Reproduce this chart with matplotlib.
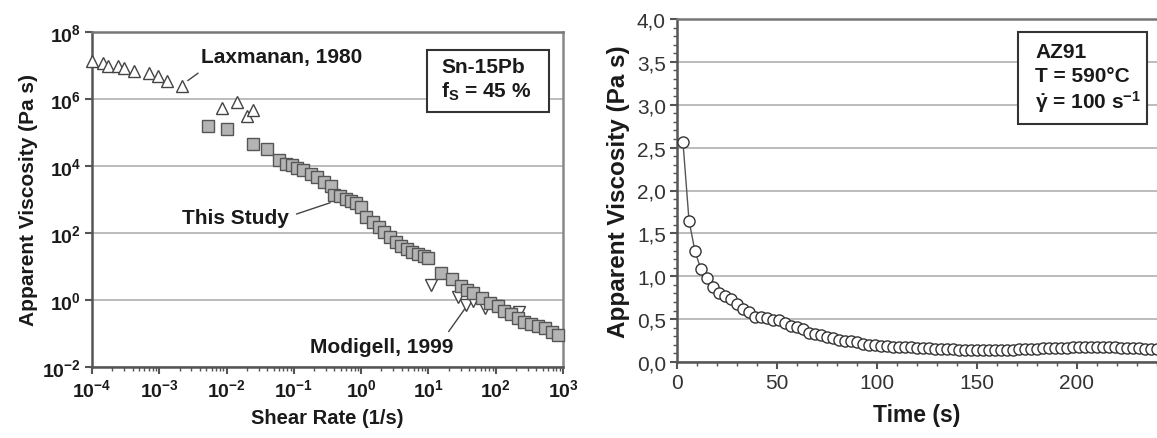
import math
import matplotlib
matplotlib.use("Agg")
import matplotlib.pyplot as plt
import matplotlib.patches as patches
from matplotlib.ticker import FixedLocator, LogLocator, MultipleLocator, FuncFormatter, NullFormatter

plt.rcParams['font.family'] = ['Liberation Sans', 'DejaVu Sans']
plt.rcParams['mathtext.fontset'] = 'custom'
plt.rcParams['mathtext.rm'] = 'Liberation Sans:bold'
plt.rcParams['mathtext.bf'] = 'Liberation Sans:bold'
plt.rcParams['mathtext.it'] = 'Liberation Sans:bold'
plt.rcParams['mathtext.default'] = 'bf'

# ---- left panel: Sn-15Pb, viscosity vs shear rate (log10 values)
lax_logx = [-4.00, -3.83, -3.76, -3.62, -3.53, -3.37, -3.16, -3.02, -2.89, -2.66,
            -2.07, -1.85, -1.70, -1.60]
lax_logy = [7.14, 7.07, 6.98, 7.00, 6.92, 6.85, 6.77, 6.68, 6.54, 6.40,
            5.72, 5.90, 5.48, 5.66]

study_logx = [-2.27, -1.99, -1.60, -1.40, -1.22, -1.11, -1.03, -0.95, -0.86, -0.75,
              -0.65, -0.55, -0.45, -0.40, -0.31, -0.23, -0.15, -0.08, 0.00, 0.07,
              0.17, 0.27, 0.34, 0.43, 0.52, 0.59, 0.68, 0.76, 0.85, 0.93,
              1.00, 1.19, 1.35, 1.48, 1.57, 1.66, 1.79, 1.92, 2.03, 2.13,
              2.23, 2.33, 2.42, 2.53, 2.63, 2.73, 2.83, 2.92]
study_logy = [5.20, 5.10, 4.66, 4.51, 4.19, 4.06, 4.03, 3.93, 3.88, 3.76,
              3.66, 3.51, 3.41, 3.13, 3.09, 3.01, 2.96, 2.89, 2.77, 2.47,
              2.32, 2.17, 2.02, 1.87, 1.72, 1.60, 1.52, 1.42, 1.37, 1.30,
              1.24, 0.80, 0.63, 0.41, 0.31, 0.21, 0.05, -0.09, -0.19, -0.32,
              -0.42, -0.55, -0.65, -0.72, -0.77, -0.84, -0.95, -1.04]

mod_logx = [1.04, 1.44, 1.56, 1.66, 1.84, 2.01, 2.23, 2.35]
mod_logy = [0.45, 0.08, -0.15, -0.02, -0.24, -0.19, -0.42, -0.37]

# ---- right panel: AZ91, viscosity vs time
time_s = [3, 6, 9, 12, 15, 18, 21, 24, 27, 30, 33, 36, 39, 42, 45, 48, 51, 54, 57, 60,
          63, 66, 69, 72, 75, 78, 81, 84, 87, 90, 93, 96, 99, 102, 105, 108, 111, 114, 117, 120,
          123, 126, 129, 132, 135, 138, 141, 144, 147, 150, 153, 156, 159, 162, 165, 168, 171, 174, 177, 180,
          183, 186, 189, 192, 195, 198, 201, 204, 207, 210, 213, 216, 219, 222, 225, 228, 231, 234, 237, 240]
visc_pas = [2.56, 1.65, 1.29, 1.08, 0.98, 0.87, 0.81, 0.77, 0.73, 0.68, 0.62, 0.58, 0.53, 0.53, 0.51, 0.49,
            0.49, 0.45, 0.42, 0.41, 0.38, 0.34, 0.33, 0.31, 0.29, 0.28, 0.26, 0.25, 0.24, 0.23, 0.21, 0.20,
            0.20, 0.19, 0.19, 0.18, 0.18, 0.17, 0.17, 0.16, 0.16, 0.16, 0.15, 0.15, 0.15, 0.15, 0.14, 0.14,
            0.14, 0.14, 0.14, 0.14, 0.14, 0.14, 0.14, 0.14, 0.15, 0.15, 0.15, 0.15, 0.16, 0.16, 0.16, 0.16,
            0.16, 0.17, 0.17, 0.17, 0.17, 0.17, 0.17, 0.17, 0.17, 0.16, 0.16, 0.16, 0.16, 0.15, 0.15, 0.15]

txt = '#1a1a1a'
spine_c = '#555555'
grid_c = '#aaaaaa'

W, H = 1157, 439
fig = plt.figure(figsize=(W / 100, H / 100), dpi=100)
fig.patch.set_facecolor('white')

# ================= left =================
ax = fig.add_axes([92 / W, 1 - 368 / H, (563 - 92) / W, (368 - 33) / H])
ax.set_xscale('log')
ax.set_yscale('log')
ax.set_xlim(1e-4, 1e3)
ax.set_ylim(1e-2, 1e8)

ax.plot([10 ** v for v in lax_logx], [10 ** v for v in lax_logy], linestyle='none', marker='^',
        ms=8.5, mfc='white', mec='#444444', mew=1.0, zorder=3, clip_on=False)
ax.plot([10 ** v for v in study_logx], [10 ** v for v in study_logy], linestyle='none', marker='s',
        ms=8, mfc='#b4b4b4', mec='#555555', mew=1.0, zorder=4, clip_on=False)
ax.plot([10 ** v for v in mod_logx], [10 ** v for v in mod_logy], linestyle='none', marker='v',
        ms=8.5, mfc='white', mec='#444444', mew=1.0, zorder=3)

ax.yaxis.set_major_locator(FixedLocator([1e-2, 1e0, 1e2, 1e4, 1e6, 1e8]))
ax.yaxis.set_minor_locator(FixedLocator([]))
ax.xaxis.set_major_locator(LogLocator(base=10, numticks=20))
ax.xaxis.set_minor_locator(LogLocator(base=10, subs=range(2, 10), numticks=20))
ax.xaxis.set_minor_formatter(NullFormatter())
logfmt = FuncFormatter(lambda v, p: r'$\mathbf{10^{%d}}$' % round(math.log10(v)))
ax.xaxis.set_major_formatter(logfmt)
ax.yaxis.set_major_formatter(logfmt)
ax.tick_params(axis='both', which='major', direction='out', length=5, width=1.5,
               color=spine_c, labelsize=14, labelcolor=txt, pad=3)
ax.tick_params(axis='x', which='minor', direction='out', length=3, width=1, color=spine_c)
ax.grid(True, axis='y', which='major', color=grid_c, lw=1.1)
ax.set_axisbelow(True)
for s in ax.spines.values():
    s.set_color(spine_c)
    s.set_linewidth(1.8)
ax.spines['right'].set_color('#888888')
ax.spines['top'].set_color('#777777')

ax.set_xlabel('Shear Rate (1/s)', fontsize=14.5, fontweight='bold', color=txt, labelpad=6)
ax.set_ylabel('Apparent Viscosity (Pa s)', fontsize=15, fontweight='bold', color=txt, labelpad=3)

ax.text(4.1e-3, 1.8e7, 'Laxmanan, 1980', fontsize=15, fontweight='bold', color=txt, va='center', ha='left')
ax.annotate('', xy=(10 ** -2.61, 10 ** 6.50), xytext=(10 ** -2.39, 10 ** 6.82),
            arrowprops=dict(arrowstyle='-', color='#444444', lw=1))
ax.text(2.2e-3, 3.0e2, 'This Study', fontsize=15, fontweight='bold', color=txt, va='center', ha='left')
ax.annotate('', xy=(10 ** -0.42, 10 ** 2.93), xytext=(10 ** -1.00, 10 ** 2.54),
            arrowprops=dict(arrowstyle='-', color='#444444', lw=1))
ax.text(10 ** 0.31, 10 ** -1.40, 'Modigell, 1999', fontsize=15, fontweight='bold', color=txt,
        va='center', ha='center')
ax.annotate('', xy=(10 ** 1.56, 10 ** -0.21), xytext=(10 ** 1.276, 10 ** -1.01),
            arrowprops=dict(arrowstyle='-', color='#444444', lw=1))

ax.add_patch(patches.Rectangle((0.711, 0.761), 0.259, 0.185, transform=ax.transAxes,
                               facecolor='white', edgecolor='#333333', lw=1.5, zorder=5))
ax.text(0.741, 0.896, 'Sn-15Pb', transform=ax.transAxes, fontsize=15, fontweight='bold',
        color=txt, va='center', ha='left', zorder=6)
ax.text(0.741, 0.824, r'f$_{\mathbf{S}}$ = 45 %', transform=ax.transAxes, fontsize=15, fontweight='bold',
        color=txt, va='center', ha='left', zorder=6)

# ================= right =================
ax2 = fig.add_axes([677 / W, 1 - 363 / H, 480 / W, 343 / H])
ax2.set_xlim(0, 240)
ax2.set_ylim(0, 4.0)
ax2.plot(time_s, visc_pas, color='#555555', lw=1.0, marker='o', ms=8, mfc='white',
         mec='#333333', mew=1.0, zorder=3)

ax2.yaxis.set_major_locator(MultipleLocator(0.5))
ax2.yaxis.set_minor_locator(MultipleLocator(0.1))
ax2.xaxis.set_major_locator(MultipleLocator(50))
ax2.xaxis.set_minor_locator(MultipleLocator(10))
ax2.yaxis.set_major_formatter(FuncFormatter(lambda v, p: f'{v:.1f}'.replace('.', ',')))
ax2.xaxis.set_major_formatter(FuncFormatter(lambda v, p: f'{v:.0f}'))
ax2.tick_params(axis='both', which='major', direction='out', length=5, width=1.5,
                color=spine_c, labelsize=15, labelcolor='#333333', pad=3)
ax2.tick_params(axis='both', which='minor', direction='out', length=3, width=1, color=spine_c)
ax2.grid(True, axis='y', which='major', color=grid_c, lw=1.1)
ax2.set_axisbelow(True)
for s in ax2.spines.values():
    s.set_color(spine_c)
    s.set_linewidth(1.8)
ax2.spines['right'].set_visible(False)
ax2.spines['top'].set_color('#777777')

ax2.set_xlabel('Time (s)', fontsize=16.5, fontweight='bold', color=txt, labelpad=8)
ax2.set_ylabel('Apparent Viscosity (Pa s)', fontsize=17.5, fontweight='bold', color=txt, labelpad=5)

ax2.add_patch(patches.Rectangle((0.710, 0.694), 0.269, 0.268, transform=ax2.transAxes,
                                facecolor='white', edgecolor='#333333', lw=1.5, zorder=5))
ax2.text(0.746, 0.904, 'AZ91', transform=ax2.transAxes, fontsize=15, fontweight='bold',
         color=txt, va='center', ha='left', zorder=6)
ax2.text(0.746, 0.834, 'T = 590°C', transform=ax2.transAxes, fontsize=15, fontweight='bold',
         color=txt, va='center', ha='left', zorder=6)
ax2.text(0.746, 0.761, r'$\dot{\gamma}$ = 100 s$^{-1}$', transform=ax2.transAxes, fontsize=15,
         fontweight='bold', color=txt, va='center', ha='left', zorder=6)

fig.savefig('out.png', dpi=100, facecolor='white')
